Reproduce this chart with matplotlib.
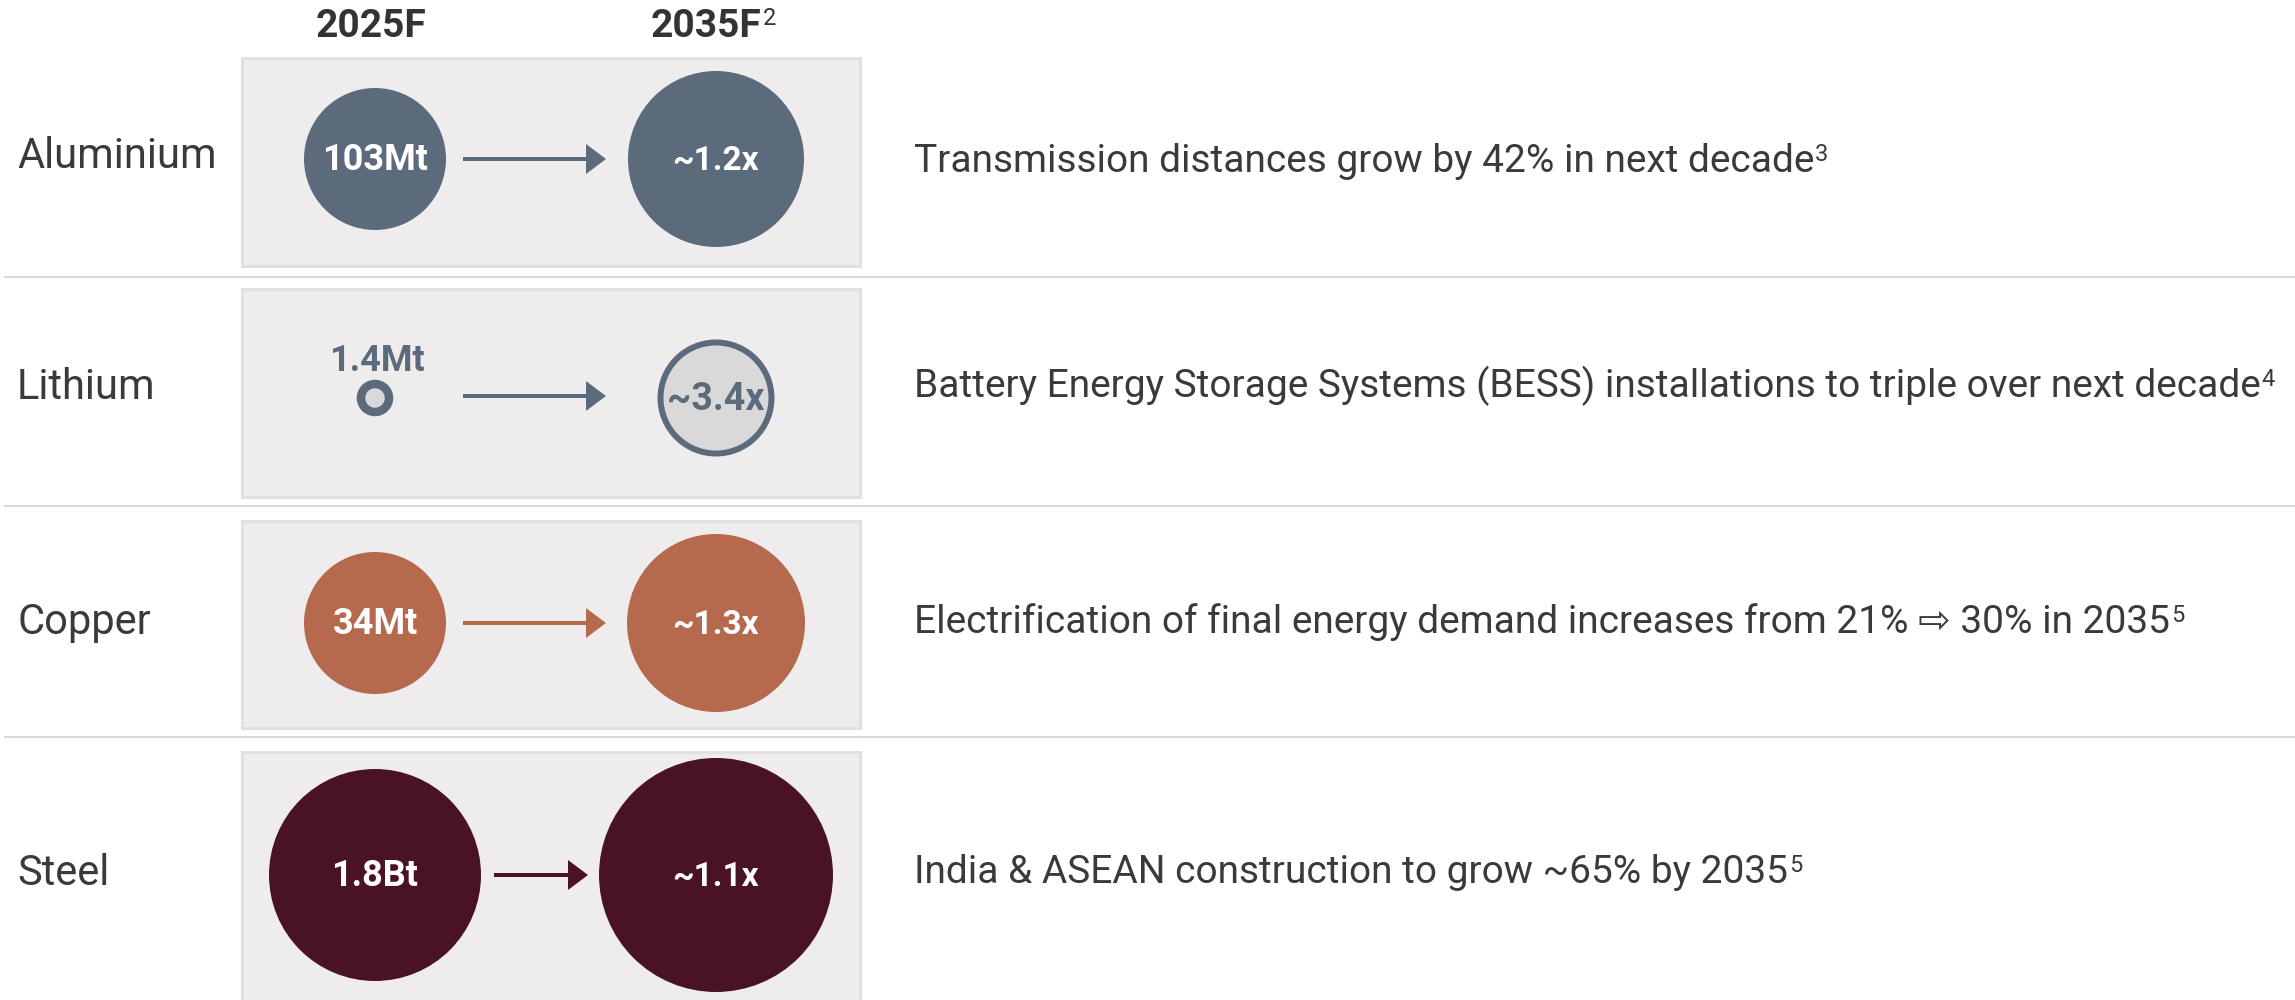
import matplotlib
matplotlib.use("Agg")
import matplotlib.pyplot as plt
import matplotlib.patches as mpatches

plt.rcParams['font.family'] = ['Roboto', 'DejaVu Sans']

# ---------------- data ----------------
materials = ['Aluminium', 'Lithium', 'Copper', 'Steel']
demand_2025 = ['103Mt', '1.4Mt', '34Mt', '1.8Bt']
growth_2035 = ['~1.2x', '~3.4x', '~1.3x', '~1.1x']
drivers = [
    'Transmission distances grow by 42% in next decade',
    'Battery Energy Storage Systems (BESS) installations to triple over next decade',
    'Electrification of final energy demand increases from 21% \u21e8 30% in 2035',
    'India & ASEAN construction to grow ~65% by 2035',
]
driver_notes = ['3', '4', '5', '5']
headers = ['2025F', '2035F']
header_notes = ['', '2']

# ---------------- style / layout (pixels) ----------------
W, H = 2295, 1000
SLATE = '#5c6b7c'
colors = [SLATE, SLATE, '#b5694d', '#4a1324']
hollow = [False, True, False, False]
row_y = [159, 398, 623, 875]
label_base = [168, 399, 634, 885]
driver_base = [172, 397, 633, 883]
box_top = [58, 289, 521, 752]
box_bot = [266, 497, 728, 1012]
sep_y = [277, 506, 737]
r25 = [71, 14, 71, 106]
r35 = [88, 55.5, 89, 117]
arrow_x = [(463, 606), (463, 606), (463, 606), (494, 588)]
x25, x35 = 375, 716
TXT = '#3a3a3a'
PX = 0.72  # points per pixel at dpi 100

fig = plt.figure(figsize=(W / 100, H / 100), dpi=100)
ax = fig.add_axes([0, 0, 1, 1])
ax.set_xlim(0, W)
ax.set_ylim(H, 0)
ax.axis('off')

# separators
for y in sep_y:
    ax.plot([4, W], [y, y], color='#d0d0d0', lw=1.6 * PX, solid_capstyle='butt')

# boxes
for t, b in zip(box_top, box_bot):
    ax.add_patch(mpatches.Rectangle((242, t), 618, b - t, facecolor='#eeeced',
                                    edgecolor='#e1dfdf', lw=3 * PX))

# headers
hdr_x = [371, 706]
hdr_texts = []
for x, h in zip(hdr_x, headers):
    hdr_texts.append(ax.text(x, 37, h, ha='center', va='baseline', fontsize=28,
                             fontweight='bold', color='#333333'))

# row labels, circles, arrows
for i, m in enumerate(materials):
    ax.text(17, label_base[i], m, ha='left', va='baseline', fontsize=30, color=TXT)
    c = colors[i]
    cy = row_y[i]
    if hollow[i]:
        ax.add_patch(mpatches.Circle((x25, cy), r25[i], facecolor='#d9d9d9',
                                     edgecolor=c, lw=8.5 * PX))
        ax.add_patch(mpatches.Circle((x35, cy), r35[i], facecolor='#d9d9d9',
                                     edgecolor=c, lw=6 * PX))
        ax.text(x25 + 2, cy - 27, demand_2025[i], ha='center', va='baseline',
                fontsize=26, fontweight='bold', color=c)
        ax.text(x35, cy + 12, growth_2035[i], ha='center', va='baseline',
                fontsize=27, fontweight='bold', color=c)
    else:
        ax.add_patch(mpatches.Circle((x25, cy), r25[i], facecolor=c, edgecolor='none'))
        ax.add_patch(mpatches.Circle((x35, cy), r35[i], facecolor=c, edgecolor='none'))
        ax.text(x25, cy + 11, demand_2025[i], ha='center', va='baseline',
                fontsize=26, fontweight='bold', color='white')
        ax.text(x35, cy + 11, growth_2035[i], ha='center', va='baseline',
                fontsize=24, fontweight='bold', color='white')
    x0, x1 = arrow_x[i]
    ax.arrow(x0, cy - 2 if i == 1 else cy, x1 - x0, 0, width=4, head_width=30,
             head_length=20, length_includes_head=True, color=c, lw=0)

drv_texts = []
for i, d in enumerate(drivers):
    drv_texts.append(ax.text(914, driver_base[i], d, ha='left', va='baseline',
                             fontsize=28, color=TXT))

# superscripts placed right after their text
fig.canvas.draw()
rend = fig.canvas.get_renderer()
inv = ax.transData.inverted()


def add_super(txt_obj, note, base_y, size, color, weight='normal'):
    if not note:
        return
    bb = txt_obj.get_window_extent(renderer=rend)
    xr = inv.transform((bb.x1, bb.y0))[0]
    ax.text(xr + 1, base_y, note, ha='left', va='baseline', fontsize=size,
            color=color, fontweight=weight)


for t, n in zip(hdr_texts, header_notes):
    add_super(t, n, 25, 17, '#333333')
for i, t in enumerate(drv_texts):
    add_super(t, driver_notes[i], driver_base[i] - 11, 17, TXT)

fig.savefig('out.png', dpi=100, facecolor='white')
